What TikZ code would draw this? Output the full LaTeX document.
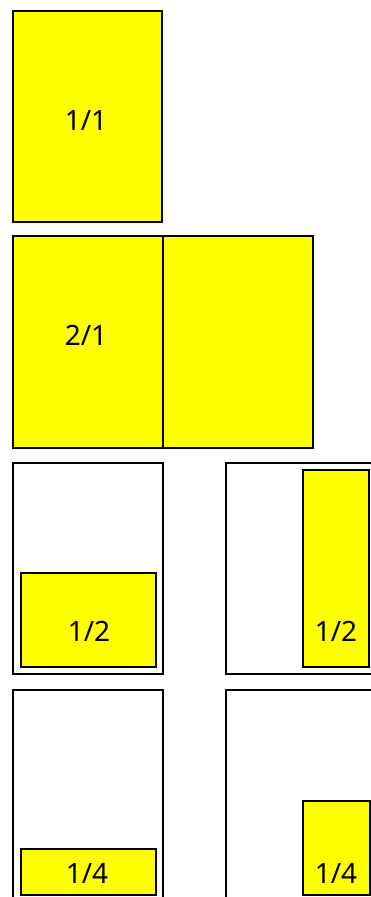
\documentclass[tikz,border=0pt]{standalone}
\usepackage{fontspec}
\setmainfont{Noto Sans}
\definecolor{pageyellow}{RGB}{255,255,0}
\begin{document}
\begin{tikzpicture}[x=1pt,y=-1pt,
  page/.style={draw=black, line width=1.4pt, inner sep=0pt, outer sep=0pt, anchor=north west, rectangle},
  filled/.style={page, fill=pageyellow},
  blank/.style={page, fill=white},
  lbl/.style={font=\fontsize{28}{32}\selectfont, text=black, inner sep=0pt}]
\useasboundingbox (0,0) rectangle (371,897);
\clip (0,0) rectangle (371,897);
% row 1
\node[filled, minimum width=149pt, minimum height=211pt] (p11) at (13,11) {};
\node[lbl] (t11) at (86,121) {1/1};
% row 2
\node[filled, minimum width=150pt, minimum height=212pt] (p21a) at (13,236) {};
\node[filled, minimum width=150pt, minimum height=212pt] (p21b) at (163,236) {};
\node[lbl] (t21) at (86,335) {2/1};
% row 3
\node[blank, minimum width=150pt, minimum height=211pt] (p12a) at (13,463) {};
\node[filled, minimum width=135pt, minimum height=94pt] (y12a) at (21,573) {};
\node[lbl] (t12a) at (89,631) {1/2};
\node[blank, minimum width=150pt, minimum height=211pt] (p12b) at (226,463) {};
\node[filled, minimum width=66pt, minimum height=197pt] (y12b) at (303,470) {};
\node[lbl] (t12b) at (336,631) {1/2};
% row 4
\node[blank, minimum width=150pt, minimum height=215pt] (p14a) at (13,690) {};
\node[filled, minimum width=135pt, minimum height=46pt] (y14a) at (21,849) {};
\node[lbl] (t14a) at (87,873) {1/4};
\node[blank, minimum width=150pt, minimum height=215pt] (p14b) at (226,690) {};
\node[filled, minimum width=67pt, minimum height=94pt] (y14b) at (303,801) {};
\node[lbl] (t14b) at (336,873) {1/4};
\end{tikzpicture}
\end{document}
